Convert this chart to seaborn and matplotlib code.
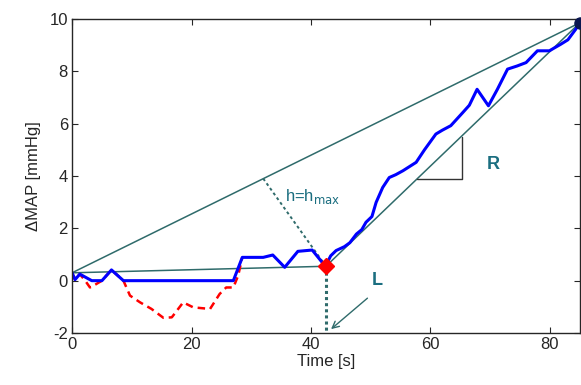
import numpy as np
import pandas as pd
import seaborn as sns
import matplotlib.pyplot as plt

# blue trace (processed MAP)
t_blue = [0, 0.5, 1.3, 3.3, 5, 6.6, 8.6, 27, 28.5, 31.4, 32, 33.6, 35.6, 37.8, 40.2,
          42.4, 43.3, 44.2, 45.6, 46.5, 47.6, 48.5, 49.2, 50.2, 50.9, 52, 53.1, 54.2,
          55.4, 57.6, 59.0, 60.9, 62.0, 63.4, 65.4, 66.5, 67.8, 69.7, 71.2, 72.9, 74.5,
          76, 77.9, 79.9, 81.8, 83.0, 84.3, 85]
map_blue = [0.3, 0.04, 0.25, 0, 0, 0.41, 0, 0, 0.89, 0.89, 0.89, 0.98, 0.51, 1.12, 1.17,
            0.55, 0.95, 1.15, 1.3, 1.45, 1.78, 1.95, 2.23, 2.45, 2.99, 3.56, 3.94, 4.05,
            4.2, 4.52, 5.0, 5.6, 5.75, 5.92, 6.42, 6.7, 7.31, 6.68, 7.31, 8.08, 8.2,
            8.33, 8.78, 8.78, 9.03, 9.2, 9.6, 9.85]

# red trace (raw MAP, only visible where it differs)
t_red = [0, 0.5, 1.3, 2.2, 3, 3.6, 5, 6.6, 8.6, 9.7, 11.4, 13.3, 15.3, 16.7, 18.6, 20.3,
         23.1, 24.7, 25.8, 27, 27.8, 28.5]
map_red = [0.3, 0.04, 0.25, 0.0, -0.26, -0.19, 0, 0.41, 0, -0.57, -0.83, -1.08, -1.42,
           -1.4, -0.83, -1.02, -1.08, -0.51, -0.26, -0.26, 0.19, 0.89]

# construction points
start = (0, 0.3)
knee = (42.5, 0.55)
end = (85, 9.85)
h_foot = (32.0, 3.9)

teal = '#2f6b6b'
txt = '#1b6e80'

sns.set_style('ticks')
plt.rcParams['font.family'] = ['Liberation Sans', 'DejaVu Sans']
plt.rcParams['font.size'] = 12
plt.rcParams['axes.unicode_minus'] = False

fig = plt.figure(figsize=(5.81, 3.85), dpi=100)
ax = fig.add_axes([0.124, 0.135, 0.874, 0.816])

# construction lines
ax.plot([start[0], end[0]], [start[1], end[1]], color=teal, lw=1.1)
ax.plot([start[0], knee[0]], [start[1], knee[1]], color=teal, lw=1.1)
ax.plot([knee[0], end[0]], [knee[1], end[1]], color=teal, lw=1.1)
ax.plot([h_foot[0], knee[0]], [h_foot[1], knee[1]], color=teal, lw=1.4, ls=(0, (1.5, 1.5)))
ax.plot([knee[0], knee[0]], [knee[1], -2], color=teal, lw=2.2, ls=(0, (1, 1)))

# slope triangle
ax.plot([57.8, 65.3, 65.3], [3.89, 3.89, 5.5], color='#333333', lw=1)

sns.lineplot(x=t_red, y=map_red, ax=ax, color='red', lw=1.8, linestyle=(0, (3, 2)),
             sort=False, estimator=None)
sns.lineplot(x=t_blue, y=map_blue, ax=ax, color='blue', lw=2.2, sort=False, estimator=None)

ax.plot(knee[0], knee[1], marker='D', color='red', ms=8, zorder=5)
ax.plot(end[0], end[1], marker='o', color='#0a1650', ms=8, zorder=5, clip_on=False)

ax.text(35.6, 3.05, r'h=h$_{\rm max}$', color=txt, fontsize=12)
ax.text(69.5, 4.25, 'R', color=txt, fontsize=13, fontweight='bold')
ax.text(50.2, -0.15, 'L', color=txt, fontsize=13, fontweight='bold')
ax.annotate('', xy=(43.0, -1.92), xytext=(49.8, -0.6),
            arrowprops=dict(arrowstyle='->', color=teal, lw=1))

ax.set_xlim(0, 85)
ax.set_ylim(-2, 10)
ax.set_xticks([0, 20, 40, 60, 80])
ax.set_yticks([-2, 0, 2, 4, 6, 8, 10])
ax.tick_params(direction='in', top=True, right=True, length=4, labelsize=12, pad=3)
for s in ax.spines.values():
    s.set_linewidth(1)
ax.set_xlabel('Time [s]', fontsize=12, labelpad=1)
ax.set_ylabel('\u0394MAP [mmHg]', fontsize=12, labelpad=6)

fig.savefig('out.png', dpi=100)
